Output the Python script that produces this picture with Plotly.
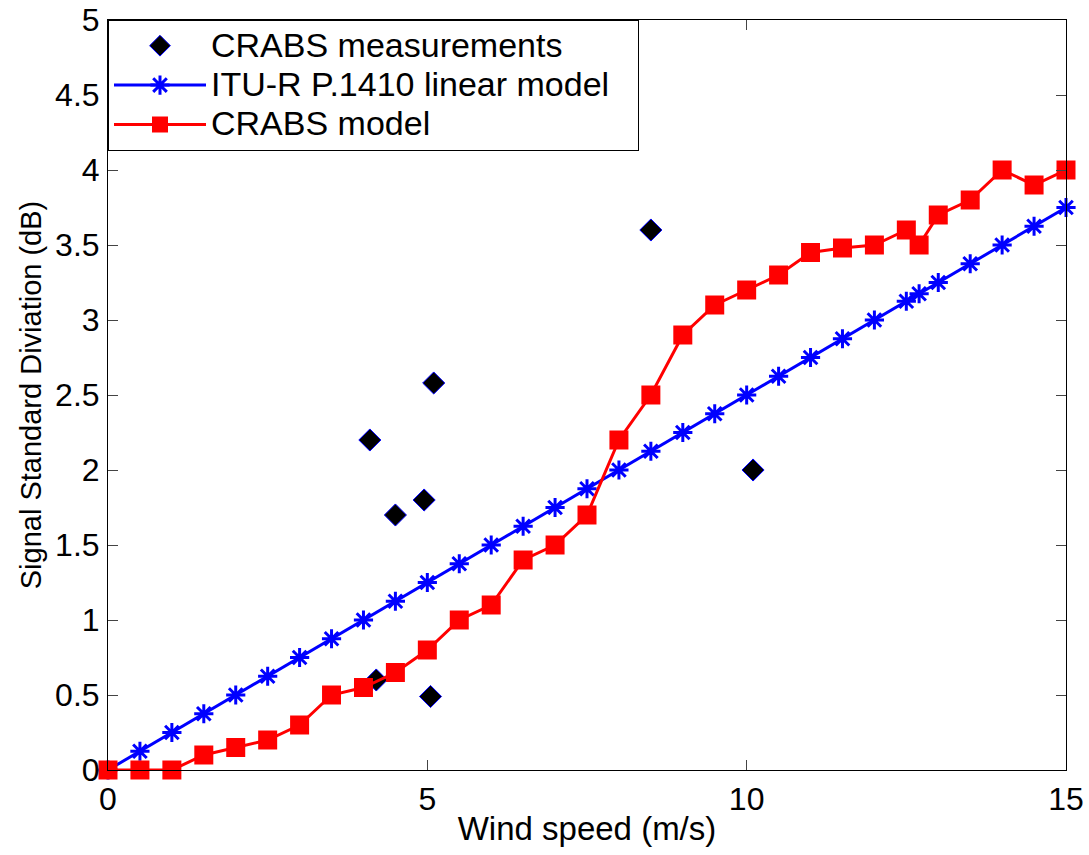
import plotly.graph_objects as go

# CRABS measurements (scatter)
meas_x = [4.1, 4.2, 4.5, 4.95, 5.05, 5.1, 8.5, 10.1]
meas_y = [2.2, 0.6, 1.7, 1.8, 0.49, 2.58, 3.6, 2.0]

# ITU-R P.1410 linear model
itu_x = [0, 0.5, 1, 1.5, 2, 2.5, 3, 3.5, 4, 4.5, 5, 5.5, 6, 6.5, 7, 7.5, 8, 8.5,
         9, 9.5, 10, 10.5, 11, 11.5, 12, 12.5, 12.7, 13, 13.5, 14, 14.5, 15]
itu_y = [0, 0.125, 0.25, 0.375, 0.5, 0.625, 0.75, 0.875, 1.0, 1.125, 1.25, 1.375,
         1.5, 1.625, 1.75, 1.875, 2.0, 2.125, 2.25, 2.375, 2.5, 2.625, 2.75, 2.875,
         3.0, 3.125, 3.175, 3.25, 3.375, 3.5, 3.625, 3.75]

# CRABS model
crabs_x = itu_x
crabs_y = [0, 0, 0, 0.1, 0.15, 0.2, 0.3, 0.5, 0.55, 0.65, 0.8, 1.0, 1.1, 1.4, 1.5,
           1.7, 2.2, 2.5, 2.9, 3.1, 3.2, 3.3, 3.45, 3.48, 3.5, 3.6, 3.5, 3.7, 3.8,
           4.0, 3.9, 4.0]

x_ticks = [0, 5, 10, 15]
y_ticks = [0, 0.5, 1, 1.5, 2, 2.5, 3, 3.5, 4, 4.5, 5]
y_tick_labels = ["0", "0.5", "1", "1.5", "2", "2.5", "3", "3.5", "4", "4.5", "5"]

FONT = "Arial, Liberation Sans, sans-serif"


def big(label, pad=""):
    return '<span style="font-size:34px">' + label + '</span>' + pad


fig = go.Figure()
fig.add_trace(go.Scatter(
    x=meas_x, y=meas_y, mode="markers", name=big("CRABS measurements"),
    marker=dict(symbol="diamond", size=17, color="black",
                line=dict(color="blue", width=1)),
    cliponaxis=False,
))
fig.add_trace(go.Scatter(
    x=itu_x, y=itu_y, mode="lines+markers",
    name=big("ITU-R P.1410 linear model", "&nbsp;&nbsp;&nbsp;"),
    line=dict(color="blue", width=3),
    marker=dict(symbol="asterisk-open", size=16, color="blue",
                line=dict(color="blue", width=3)),
    cliponaxis=False,
))
fig.add_trace(go.Scatter(
    x=crabs_x, y=crabs_y, mode="lines+markers", name=big("CRABS model"),
    line=dict(color="red", width=3),
    marker=dict(symbol="square", size=19, color="red"),
    cliponaxis=False,
))

axis_common = dict(
    showline=True, linecolor="black", linewidth=1, mirror="allticks",
    ticks="inside", ticklen=10, tickwidth=1, tickcolor="#444",
    showgrid=False, zeroline=False, automargin=False,
    ticklabeloverflow="allow",
    tickfont=dict(family=FONT, size=32, color="black"),
)

fig.update_layout(
    width=1089, height=855,
    margin=dict(l=108, r=23, t=20, b=85),
    paper_bgcolor="white", plot_bgcolor="white",
    font=dict(family=FONT, color="black"),
    xaxis=dict(range=[0, 15], tickvals=x_ticks, ticklabelstandoff=1,
               title=dict(text="Wind speed (m/s)", font=dict(family=FONT, size=33),
                          standoff=0),
               **axis_common),
    yaxis=dict(range=[0, 5], tickvals=y_ticks, ticktext=y_tick_labels,
               ticklabelstandoff=1,
               title=dict(text="Signal Standard Diviation (dB)",
                          font=dict(family=FONT, size=29), standoff=4),
               **axis_common),
    legend=dict(x=0, y=1, xanchor="left", yanchor="top",
                bgcolor="white", bordercolor="black", borderwidth=1,
                font=dict(family=FONT, size=28, color="black"),
                itemwidth=92, tracegroupgap=0),
    showlegend=True,
)

fig.write_html(
    "out.html",
    config={"displayModeBar": False},
    post_script="document.body.style.margin='0';document.body.style.overflow='hidden';",
)
